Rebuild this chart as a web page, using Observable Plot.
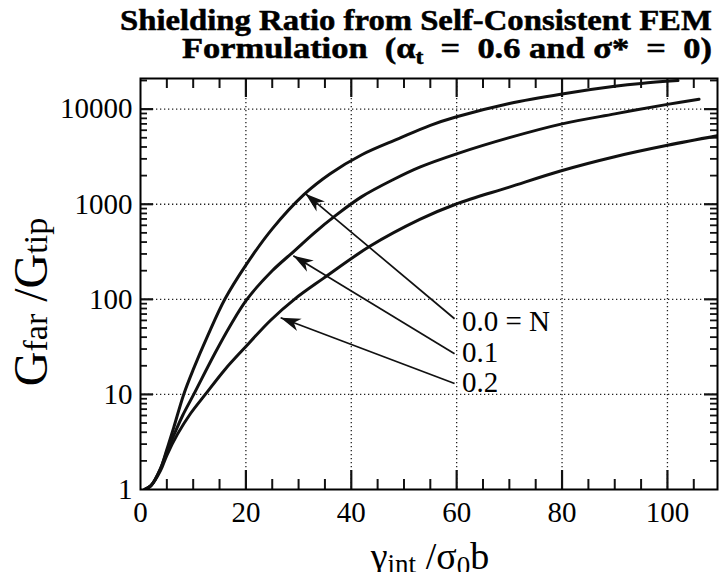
<!DOCTYPE html>
<html>
<head>
<meta charset="utf-8">
<script src="https://cdn.jsdelivr.net/npm/d3@7"></script>
<script src="https://cdn.jsdelivr.net/npm/@observablehq/plot@0.6"></script>
<style>
html, body { margin: 0; padding: 0; background: #fff; }
#wrap { position: relative; width: 719px; height: 572px; overflow: hidden; background: #fff; }
</style>
</head>
<body>
<div id="wrap"></div>
<script>
// ---- data ----
// curve "0.0 = N"
const gamma00 = [0.8, 2, 3.8, 5, 6.3, 8.2, 10, 12.7, 16, 20, 25, 31, 36, 42, 49, 55, 60, 70, 80, 90, 95, 102];
const ratio00 = [1, 1.1, 1.66, 2.63, 4.47, 10, 18.2, 40.7, 100, 229, 550, 1259, 2089, 3311, 4898, 6761, 8318, 11482, 14454, 17378, 18621, 19953];
// curve "0.1"
const gamma01 = [0.8, 2, 3.8, 5, 6.3, 8, 10.1, 14, 17, 20.2, 25, 29, 33, 37, 42, 48, 53, 60, 70, 80, 90, 100, 106];
const ratio01 = [1, 1.1, 1.66, 2.5, 3.7, 6.0, 10, 26.3, 52.5, 100, 199.5, 316, 501, 759, 1202, 1820, 2455, 3388, 5012, 7000, 8913, 11220, 12735];
// curve "0.2"
const gamma02 = [0.8, 2, 3.8, 5, 7, 9.5, 12.3, 16, 19.6, 24.7, 29.2, 34.7, 43.6, 53, 59.8, 70, 79.7, 90, 100, 109.5];
const ratio02 = [1, 1.1, 1.58, 2.29, 3.8, 6.3, 10, 18.2, 30.2, 60.3, 100, 166, 363, 692, 1000, 1514, 2239, 3162, 4169, 5248];

// curve labels and their arrows
const labelNames  = ["0.0 = N", "0.1", "0.2"];
const labelGamma  = [61, 61, 61];
const labelRatio  = [58, 27.5, 13.3];
const arrowTailX  = [59.6, 59.6, 59.6];
const arrowTailY  = [62.5, 26.8, 13.0];
const arrowTipX   = [31.3, 29.0, 26.6];
const arrowTipY   = [1290, 287, 64];

// axes
const xTickLabels = [0, 20, 40, 60, 80, 100];
const yTickLabels = [1, 10, 100, 1000, 10000];
const xMax = 109.5;
const yMax = 21000;

// ---- layout ----
const W = 719, H = 572;
const mt = 78, mb = 83, ml = 140, mr = 2;
const frameH = H - mt - mb, frameW = W - ml - mr;
const decadePx = frameH / Math.log10(yMax);
const yUp = len => Math.pow(10, len / decadePx);   // factor for a vertical length in px
const xLen = len => len * xMax / frameW;            // data length for a horizontal length in px

const curves = [
  {s: "0.0", x: gamma00, y: ratio00},
  {s: "0.1", x: gamma01, y: ratio01},
  {s: "0.2", x: gamma02, y: ratio02}
];
const lineData = curves.flatMap(c => c.x.map((x, i) => ({s: c.s, x, y: c.y[i]})));
const arrowData = labelNames.map((n, i) => ({x1: arrowTailX[i], y1: arrowTailY[i], x2: arrowTipX[i], y2: arrowTipY[i]}));
const labelData = labelNames.map((n, i) => ({x: labelGamma[i], y: labelRatio[i], t: n}));

const xMinor = d3.range(5, xMax, 5).filter(v => v % 20 !== 0);
const xMajor = xTickLabels.filter(v => v > 0);
const yMinor = [];
for (const d of yTickLabels) for (let k = 2; k <= 9; k++) if (d * k < yMax) yMinor.push(d * k);
const yMajor = yTickLabels.filter(v => v > 1);

function filledArrow(color) {
  const m = d3.create("svg:marker")
    .attr("viewBox", "-20 -7 21 14")
    .attr("markerWidth", 21)
    .attr("markerHeight", 14)
    .attr("markerUnits", "userSpaceOnUse")
    .attr("orient", "auto")
    .attr("refX", 0)
    .attr("refY", 0);
  m.append("path").attr("d", "M0,0L-20,-6.5L-14,0L-20,6.5Z").attr("fill", color).attr("stroke", "none");
  return m.node();
}

const ink = "#111";
const xMinL = 10, xMajL = 19, yMinL = 7, yMajL = 13;
const chart = Plot.plot({
  width: W, height: H,
  marginTop: mt, marginBottom: mb, marginLeft: ml, marginRight: mr,
  style: {fontFamily: "'Liberation Serif', 'Times New Roman', serif", fontSize: "29px", color: "#000", background: "#fff"},
  x: {domain: [0, xMax]},
  y: {type: "log", domain: [1, yMax]},
  marks: [
    Plot.ruleX(xMajor, {x: d => d, stroke: "#222", strokeWidth: 1.3, strokeDasharray: "1.3,2.7"}),
    Plot.ruleY(yMajor, {y: d => d, stroke: "#222", strokeWidth: 1.3, strokeDasharray: "1.3,2.7"}),
    // inward ticks: bottom
    Plot.ruleX(xMinor, {x: d => d, y1: 1, y2: yUp(xMinL), stroke: ink, strokeWidth: 2}),
    Plot.ruleX(xMajor, {x: d => d, y1: 1, y2: yUp(xMajL), stroke: ink, strokeWidth: 2.2}),
    // top
    Plot.ruleX(xMinor, {x: d => d, y1: yMax, y2: yMax / yUp(xMinL), stroke: ink, strokeWidth: 2}),
    Plot.ruleX(xMajor, {x: d => d, y1: yMax, y2: yMax / yUp(xMajL), stroke: ink, strokeWidth: 2.2}),
    // left
    Plot.ruleY(yMinor, {y: d => d, x1: 0, x2: xLen(yMinL), stroke: ink, strokeWidth: 1.8}),
    Plot.ruleY(yMajor, {y: d => d, x1: 0, x2: xLen(yMajL), stroke: ink, strokeWidth: 2.2}),
    // right
    Plot.ruleY(yMinor, {y: d => d, x1: xMax, x2: xMax - xLen(yMinL), stroke: ink, strokeWidth: 1.8}),
    Plot.ruleY(yMajor, {y: d => d, x1: xMax, x2: xMax - xLen(yMajL), stroke: ink, strokeWidth: 2.2}),
    Plot.line(lineData, {x: "x", y: "y", z: "s", curve: "catmull-rom", stroke: ink, strokeWidth: 3, clip: true}),
    Plot.link(arrowData, {x1: "x1", y1: "y1", x2: "x2", y2: "y2", stroke: ink, strokeWidth: 1.7, markerEnd: filledArrow}),
    Plot.text(labelData, {x: "x", y: "y", text: "t", textAnchor: "start", lineAnchor: "middle", fontSize: 29, fill: "#000"}),
    Plot.axisX(xTickLabels, {tickSize: 0, tickPadding: 12, label: null, fontSize: 29, fill: "#000"}),
    Plot.axisY(yTickLabels, {tickSize: 0, tickPadding: 8, label: null, fontSize: 29, fill: "#000", tickFormat: d => String(d)}),
    Plot.frame({stroke: "#000", strokeWidth: 2})
  ]
});
document.getElementById("wrap").appendChild(chart);

const svg = d3.select(chart);
const serif = "'Liberation Serif', 'Times New Roman', serif";

// y-axis title
const yl = svg.append("text")
  .attr("transform", "translate(47,302) rotate(-90)")
  .attr("text-anchor", "middle")
  .attr("font-family", serif)
  .attr("fill", "#000")
  .style("white-space", "pre");
yl.append("tspan").attr("font-size", 48).text("G");
yl.append("tspan").attr("font-size", 34).text("far");
yl.append("tspan").attr("font-size", 48).text(" /G");
yl.append("tspan").attr("font-size", 34).text("tip");

// x-axis title
const xl = svg.append("text")
  .attr("x", 430).attr("y", 569)
  .attr("text-anchor", "middle")
  .attr("font-family", serif)
  .attr("fill", "#000")
  .style("white-space", "pre");
xl.append("tspan").attr("font-size", 38).text("\u03B3");
xl.append("tspan").attr("font-size", 27).attr("dy", 4).text("int");
xl.append("tspan").attr("font-size", 38).attr("dy", -4).text(" /\u03C3");
xl.append("tspan").attr("font-size", 27).attr("dy", 6).text("0");
xl.append("tspan").attr("font-size", 38).attr("dy", -6).text("b");

// title (two lines)
const tsvg = d3.select("#wrap").append("svg")
  .attr("width", W).attr("height", 82)
  .style("position", "absolute").style("left", "0px").style("top", "0px")
  .style("overflow", "visible").style("pointer-events", "none");
function fit(sel, x0, x1) {
  const w = sel.node().getComputedTextLength();
  sel.attr("x", 0).attr("transform", `translate(${x0},0) scale(${(x1 - x0) / w},1)`);
}
const t1 = tsvg.append("text").attr("y", 30).attr("font-family", serif).attr("font-weight", "bold")
  .attr("font-size", 29).attr("fill", "#000").attr("stroke", "#000").attr("stroke-width", 0.5)
  .style("white-space", "pre")
  .text("Shielding Ratio from Self-Consistent FEM");
fit(t1, 120, 712);
const t2 = tsvg.append("text").attr("y", 58).attr("font-family", serif).attr("font-weight", "bold")
  .attr("font-size", 29).attr("fill", "#000").attr("stroke", "#000").attr("stroke-width", 0.5)
  .style("white-space", "pre");
t2.append("tspan").text("Formulation  (\u03B1");
t2.append("tspan").attr("font-size", 20).attr("dy", 6).text("t");
t2.append("tspan").attr("dy", -6).text("  =  0.6 and \u03C3*  =  0)");
fit(t2, 182, 712);
</script>
</body>
</html>
